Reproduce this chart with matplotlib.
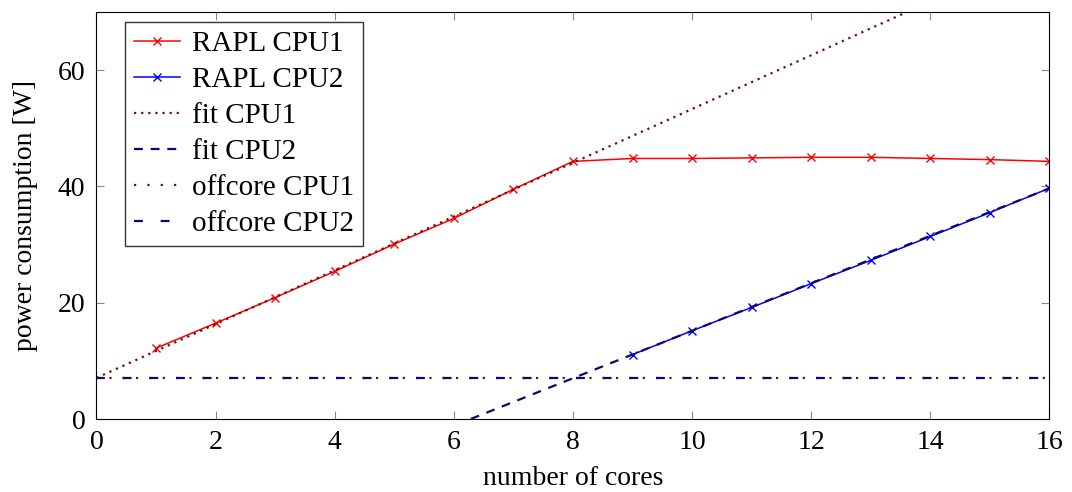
import matplotlib.pyplot as plt
import numpy as np

plt.rcParams['font.family'] = ['Liberation Serif', 'DejaVu Serif']
plt.rcParams['mathtext.fontset'] = 'stix'

cores1 = np.arange(1, 17)
rapl_cpu1 = [12.2, 16.5, 20.9, 25.4, 30.1, 34.5, 39.5, 44.3,
             44.8, 44.8, 44.9, 45.0, 45.0, 44.8, 44.6, 44.3]
cores2 = np.arange(9, 17)
rapl_cpu2 = [11.1, 15.2, 19.2, 23.3, 27.3, 31.4, 35.5, 39.7]

fit1_intercept, fit1_slope = 7.1, 4.62
fit2_intercept, fit2_slope = -25.6, 4.08
offcore1 = 7.0
offcore2 = 7.0

x_fit = np.linspace(0, 16, 200)

fig, ax = plt.subplots(figsize=(10.72, 4.92), dpi=100)
ax.plot(cores1, rapl_cpu1, color='red', marker='x', markersize=6, lw=1.1, label='RAPL CPU1')
ax.plot(cores2, rapl_cpu2, color='blue', marker='x', markersize=6, lw=1.1, label='RAPL CPU2')
ax.plot(x_fit, fit1_intercept + fit1_slope * x_fit, color='#6b0f0f', ls=(0, (1, 2.2)), lw=1.6, label='fit CPU1')
ax.plot(x_fit, fit2_intercept + fit2_slope * x_fit, color='#0a0a6e', ls=(0, (4, 3.5)), lw=1.6, label='fit CPU2')
ax.plot([0, 16], [offcore1, offcore1], color='#6b0f0f', ls=(0, (1, 5)), lw=1.6, label='offcore CPU1')
ax.plot([0, 16], [offcore2, offcore2], color='#0a0a6e', ls=(0, (4, 8)), lw=1.6, label='offcore CPU2')

ax.set_xlim(0, 16)
ax.set_ylim(0, 70)
ax.set_xticks(np.arange(0, 17, 2))
ax.set_yticks([0, 20, 40, 60])
ax.tick_params(direction='in', top=True, right=True, length=6, color='#888888', labelsize=20, pad=8)
ax.set_xlabel('number of cores', fontsize=20, labelpad=8)
ax.set_ylabel('power consumption [W]', fontsize=20, labelpad=14)

leg = ax.legend(loc='upper left', fontsize=21, frameon=True, fancybox=False, edgecolor='black',
                handlelength=1.6, borderaxespad=0.0, bbox_to_anchor=(0.03, 0.975),
                labelspacing=0.33, borderpad=0.3, handletextpad=0.4)
leg.get_frame().set_linewidth(1.0)

fig.subplots_adjust(left=0.09, right=0.979, top=0.976, bottom=0.148)
fig.savefig('out.png', dpi=100)
